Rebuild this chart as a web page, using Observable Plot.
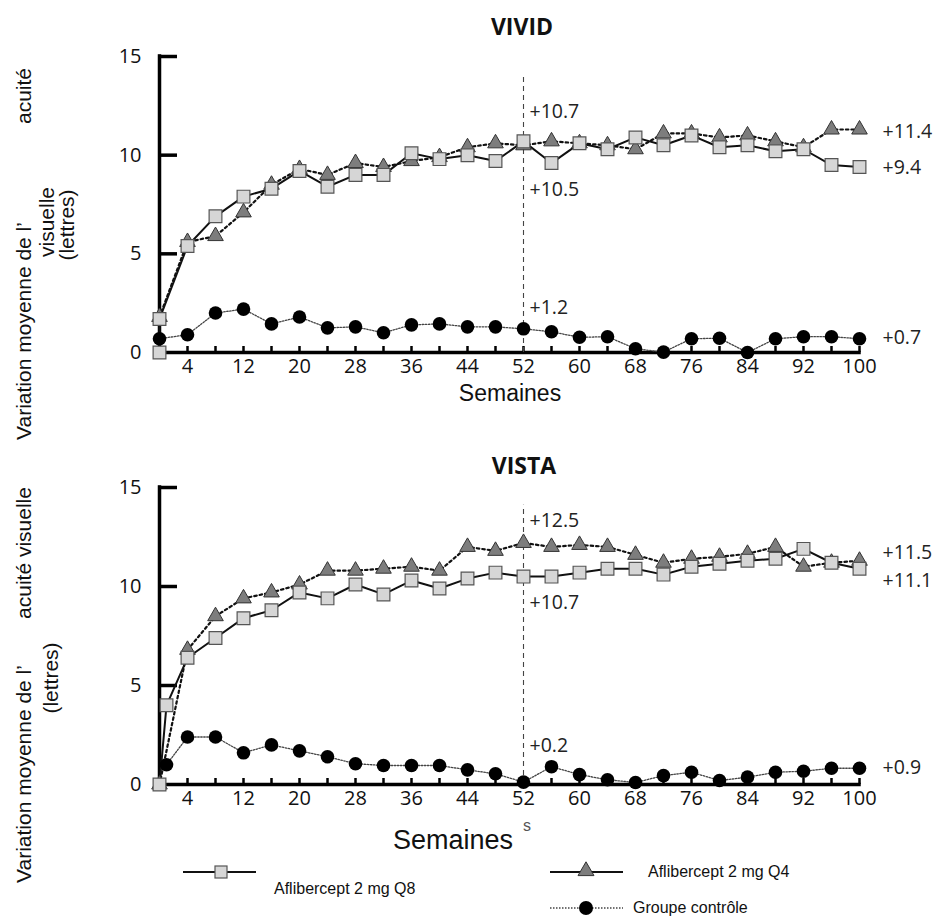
<!DOCTYPE html>
<html><head><meta charset="utf-8">
<script src="https://cdn.jsdelivr.net/npm/d3@7"></script>
<script src="https://cdn.jsdelivr.net/npm/@observablehq/plot@0.6"></script>
<style>
body{margin:0;background:#fff;}
#page{position:relative;width:939px;height:916px;overflow:hidden;background:#fff;font-family:"Liberation Sans",Arial,sans-serif;color:#111;}
.abs{position:absolute;white-space:pre;line-height:1;}
</style></head><body><div id="page"></div>
<script>
// ---------- data ----------
const weeks = [4,8,12,16,20,24,28,32,36,40,44,48,52,56,60,64,68,72,76,80,84,88,92,96,100];
const xTickLabels = [4,12,20,28,36,44,52,60,68,76,84,92,100];
const yTickLabels = [0,5,10,15];

// VIVID
const vividQ8StartWeeks = [0, 0];
const vividQ8StartValues = [0, 1.7];
const vividQ8 = [5.4,6.9,7.9,8.3,9.2,8.4,9.0,9.0,10.1,9.8,10.0,9.7,10.7,9.6,10.6,10.3,10.9,10.5,11.0,10.4,10.5,10.2,10.3,9.5,9.4];
const vividQ4StartWeeks = [0];
const vividQ4StartValues = [1.8];
const vividQ4 = [5.6,5.9,7.1,8.5,9.3,9.0,9.6,9.4,9.7,9.9,10.4,10.6,10.5,10.7,10.6,10.5,10.3,11.1,11.1,10.9,11.0,10.7,10.4,11.3,11.3];
const vividCtrlStartWeeks = [0];
const vividCtrlStartValues = [0.7];
const vividCtrl = [0.9,2.0,2.2,1.45,1.8,1.25,1.3,1.0,1.4,1.45,1.3,1.3,1.2,1.05,0.77,0.8,0.19,0.02,0.7,0.72,0.0,0.7,0.8,0.8,0.7];
const vividLabels = ["+10.7","+10.5","+1.2","+11.4","+9.4","+0.7"];

// VISTA
const vistaQ8StartWeeks = [0, 1];
const vistaQ8StartValues = [0, 4.0];
const vistaQ8 = [6.4,7.4,8.4,8.8,9.7,9.4,10.1,9.6,10.3,9.9,10.4,10.7,10.5,10.5,10.7,10.9,10.9,10.6,11.0,11.15,11.3,11.4,11.9,11.2,10.9];
const vistaQ4StartWeeks = [0];
const vistaQ4StartValues = [0];
const vistaQ4 = [6.8,8.5,9.4,9.7,10.1,10.8,10.8,10.9,11.0,10.8,12.0,11.8,12.2,12.0,12.1,12.0,11.6,11.2,11.4,11.5,11.65,12.0,11.0,11.2,11.3];
const vistaCtrlStartWeeks = [1];
const vistaCtrlStartValues = [1.0];
const vistaCtrl = [2.4,2.4,1.6,2.0,1.7,1.4,1.05,0.96,0.96,0.96,0.74,0.54,0.12,0.9,0.5,0.24,0.1,0.45,0.62,0.2,0.37,0.62,0.67,0.82,0.82];
const vistaLabels = ["+12.5","+10.7","+0.2","+11.5","+11.1","+0.9"];

const seriesNames = ["Aflibercept 2 mg Q8","Aflibercept 2 mg Q4","Groupe contrôle"];

// ---------- helpers ----------
function series(sw, sv, vals) {
  return sw.map((w, i) => ({week: w, value: sv[i]})).concat(weeks.map((w, i) => ({week: w, value: vals[i]})));
}
const at = (s, w) => s.filter(d => d.week === w).slice(-1);

const W = 939, H = 400, ML = 159, MR = 80;
function makeChart({q8, q4, ctrl, labels}) {
  const marginTop = labels.mt, marginBottom = labels.mb;
  const fw = W - ML - MR, fh = H - marginTop - marginBottom;
  const lab = (s, w, t, dx, dy) => Plot.text(at(s, w), {x: "week", y: "value", text: () => t, dx, dy, textAnchor: "start", fontSize: 19.5, fill: "#222"});
  return Plot.plot({
    width: W, height: H, marginLeft: ML, marginRight: MR, marginTop, marginBottom,
    x: {domain: [0, 100]},
    y: {domain: [0, 15]},
    style: {fontFamily: "'Open Sans', sans-serif", fontSize: "20px", color: "#111", background: "transparent", overflow: "visible"},
    marks: [
      Plot.axisY({ticks: yTickLabels, tickSize: 0, tickPadding: 18, label: null}),
      Plot.axisX({ticks: xTickLabels, tickSize: 0, tickPadding: 6, label: null}),
      Plot.tickY([5, 10, 15], {insetRight: fw - 18, insetLeft: -1, stroke: "#000", strokeWidth: 3.5}),
      Plot.tickX(weeks, {insetTop: fh - 6, stroke: "#000", strokeWidth: 2.5}),
      Plot.ruleX([0], {y1: 0, y2: 15, stroke: "#000", strokeWidth: 3.5, strokeLinecap: "square"}),
      Plot.ruleY([0], {x1: 0, x2: 100, stroke: "#000", strokeWidth: 3.5, strokeLinecap: "square"}),
      Plot.ruleX([52], {y1: 0, y2: 14.1, stroke: "#444", strokeWidth: 1.1, strokeDasharray: "5,4"}),
      Plot.line(ctrl, {x: "week", y: "value", stroke: "#444", strokeWidth: 1.3, strokeDasharray: "1.5,1.5"}),
      Plot.line(q4, {x: "week", y: "value", stroke: "#111", strokeWidth: 2.2, strokeDasharray: "2.5,3"}),
      Plot.line(q8, {x: "week", y: "value", stroke: "#111", strokeWidth: 2}),
      Plot.dot(q4, {x: "week", y: "value", symbol: "triangle", r: 5.8, fill: "#7d7d7d", stroke: "#333", strokeWidth: 1}),
      Plot.dot(q8, {x: "week", y: "value", symbol: "square", r: 7.2, fill: "#d6d6d6", stroke: "#555", strokeWidth: 1.2}),
      Plot.dot(ctrl, {x: "week", y: "value", r: 6.8, fill: "#000"}),
      ...labels.marks(lab)
    ]
  });
}

const page = document.getElementById("page");
function place(el, top) { el.style.position = "absolute"; el.style.left = "0px"; el.style.top = top + "px"; page.append(el); }
function txt(t, cx, cy, size, extra = {}) {
  const d = document.createElement("div"); d.className = "abs"; d.textContent = t;
  d.style.left = cx + "px"; d.style.top = cy + "px"; d.style.fontSize = size + "px";
  d.style.transform = (extra.anchor === "start" ? "translate(0,-50%)" : "translate(-50%,-50%)") + (extra.rot ? " rotate(-90deg)" : "");
  if (extra.font) d.style.fontFamily = extra.font;
  if (extra.weight) d.style.fontWeight = extra.weight;
  if (extra.color) d.style.color = extra.color;
  page.append(d); return d;
}

const vq8 = series(vividQ8StartWeeks, vividQ8StartValues, vividQ8);
const vq4 = series(vividQ4StartWeeks, vividQ4StartValues, vividQ4);
const vct = series(vividCtrlStartWeeks, vividCtrlStartValues, vividCtrl);
const top1 = makeChart({q8: vq8, q4: vq4, ctrl: vct, labels: {mt: 56, mb: 48, marks: lab => [
  lab(vq8, 52, vividLabels[0], 6, -30),
  lab(vq4, 52, vividLabels[1], 6, 44),
  lab(vct, 52, vividLabels[2], 6, -21),
  lab(vq4, 100, vividLabels[3], 23, 2),
  lab(vq8, 100, vividLabels[4], 23, 1),
  lab(vct, 100, vividLabels[5], 23, -1)
]}});
place(top1, 0);

const sq8 = series(vistaQ8StartWeeks, vistaQ8StartValues, vistaQ8);
const sq4 = series(vistaQ4StartWeeks, vistaQ4StartValues, vistaQ4);
const sct = series(vistaCtrlStartWeeks, vistaCtrlStartValues, vistaCtrl);
const bot = makeChart({q8: sq8, q4: sq4, ctrl: sct, labels: {mt: 47, mb: 56, marks: lab => [
  lab(sq4, 52, vistaLabels[0], 6, -22),
  lab(sq8, 52, vistaLabels[1], 6, 26),
  lab(sct, 52, vistaLabels[2], 6, -36),
  lab(sq4, 100, vistaLabels[3], 23, -8),
  lab(sq8, 100, vistaLabels[4], 23, 12),
  lab(sct, 100, vistaLabels[5], 23, -1)
]}});
place(bot, 440);

// titles
txt("VIVID", 522, 26, 23, {font: "'Open Sans', sans-serif", weight: 700});
txt("VISTA", 524, 465, 23, {font: "'Open Sans', sans-serif", weight: 700});
// x-axis titles
txt("Semaines", 510, 393, 23);
txt("Semaines", 453, 840, 27);
txt("s", 527, 826, 16, {color: "#555"});
// y-axis titles
txt("Variation moyenne de l’", 23, 331, 21, {rot: true});
txt("acuité", 23, 96, 21, {rot: true});
txt("visuelle", 46, 222, 21, {rot: true});
txt("(lettres)", 66, 225, 21, {rot: true});
txt("Variation moyenne de l’", 23, 774, 21, {rot: true});
txt("acuité visuelle", 23, 553, 21, {rot: true});
txt("(lettres)", 50, 678, 21, {rot: true});

// legend
const lg = d3.create("svg").attr("width", W).attr("height", 66).style("position", "absolute").style("left", "0px").style("top", "850px");
const L = lg.append("g").attr("transform", "translate(0,-850)");
L.append("line").attr("x1", 183).attr("x2", 256).attr("y1", 872).attr("y2", 872).attr("stroke", "#111").attr("stroke-width", 2);
L.append("rect").attr("x", 215).attr("y", 866).attr("width", 12).attr("height", 12).attr("fill", "#d6d6d6").attr("stroke", "#555").attr("stroke-width", 1.2);
L.append("line").attr("x1", 550).attr("x2", 623).attr("y1", 872).attr("y2", 872).attr("stroke", "#111").attr("stroke-width", 2);
L.append("path").attr("d", d3.symbol(d3.symbolTriangle, 110)()).attr("transform", "translate(586,871)").attr("fill", "#7d7d7d").attr("stroke", "#333");
L.append("line").attr("x1", 550).attr("x2", 623).attr("y1", 908).attr("y2", 908).attr("stroke", "#444").attr("stroke-width", 1.3).attr("stroke-dasharray", "1.5,1.5");
L.append("circle").attr("cx", 586).attr("cy", 908).attr("r", 7).attr("fill", "#000");
page.append(lg.node());
txt(seriesNames[0], 274, 889, 16, {anchor: "start"});
txt(seriesNames[1], 648, 872, 16, {anchor: "start"});
txt(seriesNames[2], 633, 908, 16, {anchor: "start"});
</script></body></html>
